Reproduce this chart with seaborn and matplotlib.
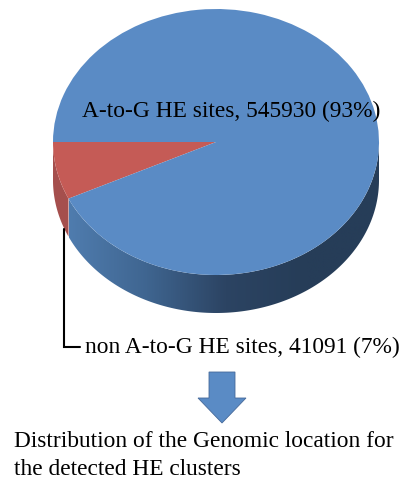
import numpy as np
import matplotlib
matplotlib.use('Agg')
import matplotlib.pyplot as plt
from matplotlib.colors import LinearSegmentedColormap
from matplotlib.patches import Polygon
import seaborn as sns

# site counts
categories = ['non A-to-G HE sites', 'A-to-G HE sites']
site_counts = [41091, 545930]
percents = [7, 93]

sns.set_theme(style='white')
plt.rcParams['font.family'] = ['Liberation Serif', 'DejaVu Serif']

blue_top = '#5a8bc5'
red_top = '#c55b56'
red_side = '#a54f4d'
depth = 38 / 133

fig = plt.figure(figsize=(4.03, 4.83), dpi=100, facecolor='white')

# pie axes, squashed so the pie reads as an ellipse
ax = fig.add_axes([53 / 403, (483 - 313) / 483, 326 / 403, 304 / 483])
ax.pie(site_counts, colors=[red_top, blue_top], startangle=180, radius=1,
       center=(0, 0), wedgeprops={'linewidth': 0, 'zorder': 5})

# side wall of the 3d pie
split = np.pi + 2 * np.pi * site_counts[0] / sum(site_counts)


def wall(t0, t1):
    t = np.linspace(t0, t1, 200)
    x, y = np.cos(t), np.sin(t)
    return np.r_[np.c_[x, y], np.c_[x, y - depth][::-1]]


ax.add_patch(Polygon(wall(np.pi, split), closed=True, fc=red_side, ec='none', zorder=2))

side_cmap = LinearSegmentedColormap.from_list(
    'side', sns.blend_palette(['#4f7cae', '#3f6590', '#2c4463', '#263d58', '#263d58'], 64))
grad = ax.imshow(np.linspace(0, 1, 256).reshape(1, -1), cmap=side_cmap, aspect='auto',
                 extent=(np.cos(split), 1, -1 - depth, 0), zorder=2)
blue_wall = Polygon(wall(split, 2 * np.pi), closed=True, fc='none', ec='none', transform=ax.transData)
ax.add_patch(blue_wall)
grad.set_clip_path(blue_wall)

ax.set_aspect('auto')
ax.set_xlim(-1, 1)
ax.set_ylim(-1 - depth, 1)
ax.axis('off')

# overlay in pixel coordinates for labels, leader and arrow
ov = fig.add_axes([0, 0, 1, 1])
ov.set_xlim(0, 403)
ov.set_ylim(483, 0)
ov.axis('off')
ov.patch.set_alpha(0)

ov.plot([63.5, 63.5, 80], [229, 347, 347], color='black', lw=1.5, solid_joinstyle='miter')
ov.add_patch(Polygon([(209, 372), (235, 372), (235, 398), (246, 398), (222, 423),
                      (198, 398), (209, 398)], closed=True, fc=blue_top, ec='#46699a', lw=0.6))

fs = 16.85
ov.text(82, 117, f'{categories[1]}, {site_counts[1]} ({percents[1]}%)', fontsize=fs, color='black', va='baseline')
ov.text(85, 353, f'{categories[0]}, {site_counts[0]} ({percents[0]}%)', fontsize=fs, color='black', va='baseline')
ov.text(14, 447, 'Distribution of the Genomic location for', fontsize=fs, color='black', va='baseline')
ov.text(14, 475, 'the detected HE clusters', fontsize=fs, color='black', va='baseline')

fig.savefig('out.png', dpi=100, facecolor='white')
